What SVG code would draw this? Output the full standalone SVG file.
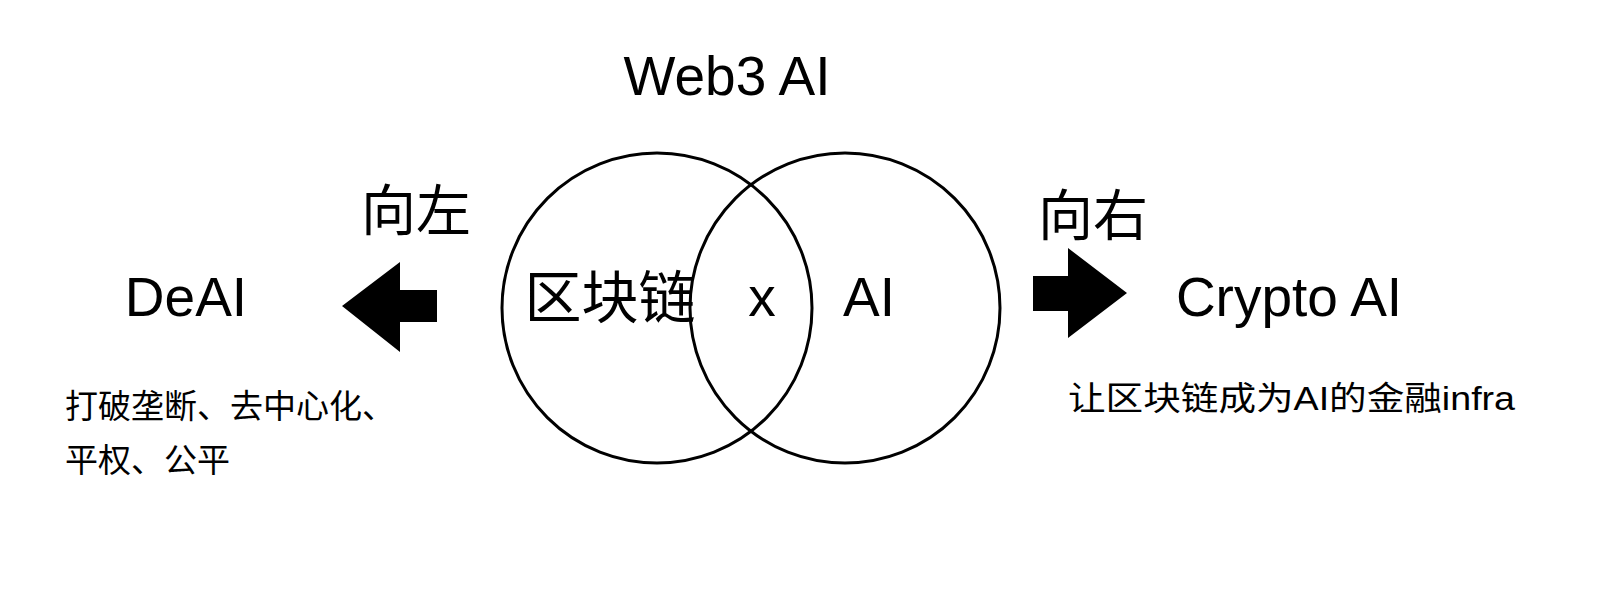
<svg xmlns="http://www.w3.org/2000/svg" width="1600" height="607" viewBox="0 0 1600 607">
<style>
text{font-family:"Liberation Sans","Noto Sans CJK SC",sans-serif;fill:#000}
.big{font-size:55px}
.cn{font-size:55px}
.sm{font-size:33px}
.c{fill:none;stroke:#000;stroke-width:3}
</style>
<rect width="1600" height="607" fill="#fff"/>
<g id="title"><text class="big" x="727" y="95" text-anchor="middle">Web3 AI</text></g>
<g id="venn">
<circle class="c" cx="657" cy="308" r="155"/>
<circle class="c" cx="845" cy="308" r="155"/>
<text class="cn" x="610" y="318" text-anchor="middle" style="font-size:57px">区块链</text>
<text class="big" x="762" y="316" text-anchor="middle">x</text>
<text class="big" x="869" y="316" text-anchor="middle">AI</text>
</g>
<g id="left">
<text class="cn" x="416" y="230" text-anchor="middle">向左</text>
<text class="big" x="186" y="316" text-anchor="middle">DeAI</text>
<text class="sm" x="65" y="418">打破垄断、去中心化、</text>
<text class="sm" x="65" y="472">平权、公平</text>
</g>
<g id="right">
<text class="cn" x="1093" y="235" text-anchor="middle">向右</text>
<text class="big" x="1289" y="316" text-anchor="middle">Crypto AI</text>
<text class="sm" x="1068" y="410" textLength="447" lengthAdjust="spacingAndGlyphs">让区块链成为AI的金融infra</text>
</g>
<g id="connectors">
<polygon points="342,306 400,262 400,290 437,290 437,322 400,322 400,352" fill="#000"/>
<polygon points="1127,293 1068,248 1068,276 1033,276 1033,311 1068,311 1068,338" fill="#000"/>
</g>
</svg>
